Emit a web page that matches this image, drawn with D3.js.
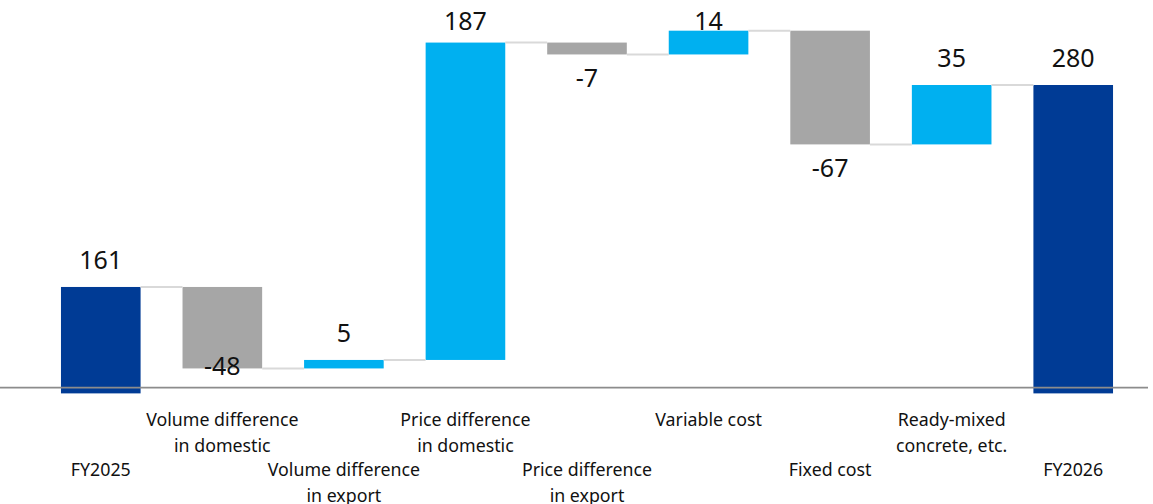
<!DOCTYPE html>
<html>
<head>
<meta charset="utf-8">
<script src="https://cdn.jsdelivr.net/npm/d3@7/dist/d3.min.js"></script>
<style>
  html, body { margin: 0; padding: 0; background: #ffffff; }
  svg { display: block; }
  text { font-family: "Noto Sans", "DejaVu Sans", sans-serif; fill: #111111; }
</style>
</head>
<body>
<svg id="chart" width="1153" height="504"></svg>
<script>
// Operating profit bridge, FY2025 -> FY2026
const categories = [
  "FY2025",
  "Volume difference\nin domestic",
  "Volume difference\nin export",
  "Price difference\nin domestic",
  "Price difference\nin export",
  "Variable cost",
  "Fixed cost",
  "Ready-mixed\nconcrete, etc.",
  "FY2026"
];
const values = [161, -48, 5, 187, -7, 14, -67, 35, 280];
const isTotal = [true, false, false, false, false, false, false, false, true];

const colors = { total: "#003B95", up: "#00B0F0", down: "#A6A6A6", connector: "#D9D9D9", axis: "#8C8C8C" };

const svg = d3.select("#chart");

// Running totals: each step starts where the previous one ended
const steps = [];
let running = 0;
values.forEach((v, i) => {
  if (isTotal[i]) {
    steps.push({ cat: categories[i], v, start: null, end: v, total: true });
    running = v;
  } else {
    steps.push({ cat: categories[i], v, start: running, end: running + v, total: false });
    running += v;
  }
});

const x = d3.scaleBand()
  .domain(categories)
  .range([40, 1134])
  .paddingInner(0.345)
  .paddingOuter(0.1725);

// Truncated value axis: the chart floor sits around 100
const y = d3.scaleLinear().domain([100, 280]).range([390.5, 85]);
const floorValue = 98.3;   // totals run down just past the axis line
const axisValue = 101.7;
const axisY = y(axisValue);

// bars
svg.append("g").selectAll("rect")
  .data(steps)
  .join("rect")
  .attr("x", d => x(d.cat))
  .attr("width", x.bandwidth())
  .attr("y", d => d.total ? y(d.end) : y(Math.max(d.start, d.end)))
  .attr("height", d => d.total ? y(floorValue) - y(d.end) : Math.abs(y(d.start) - y(d.end)))
  .attr("fill", d => d.total ? colors.total : (d.v >= 0 ? colors.up : colors.down));

// connectors between neighbouring bars at the running level
svg.append("g").selectAll("line")
  .data(steps.slice(0, -1))
  .join("line")
  .attr("x1", d => x(d.cat) + x.bandwidth())
  .attr("x2", (d, i) => x(steps[i + 1].cat))
  .attr("y1", d => y(d.end))
  .attr("y2", d => y(d.end))
  .attr("stroke", colors.connector)
  .attr("stroke-width", 2);

// category axis line
svg.append("line")
  .attr("x1", 0).attr("x2", 1148)
  .attr("y1", axisY).attr("y2", axisY)
  .attr("stroke", colors.axis)
  .attr("stroke-width", 1.75);

// value labels: above rising/total bars, below falling bars
svg.append("g").selectAll("text")
  .data(steps)
  .join("text")
  .attr("text-anchor", "middle")
  .attr("font-size", 25)
  .attr("x", d => x(d.cat) + x.bandwidth() / 2)
  .attr("y", d => {
    if (d.total || d.v >= 0) {
      return Math.max(y(d.end) - 18, 29.5);
    }
    return Math.min(y(d.end) + 32.5, axisY - 12.5);
  })
  .text(d => String(d.v));

// category labels, staggered in two rows
const catG = svg.append("g");
steps.forEach((d, i) => {
  const baseY = i % 2 === 1 ? 426 : 476;
  const cx = x(d.cat) + x.bandwidth() / 2;
  const t = catG.append("text")
    .attr("text-anchor", "middle")
    .attr("font-size", 17.8)
    .attr("x", cx)
    .attr("y", baseY);
  d.cat.split("\n").forEach((line, k) => {
    t.append("tspan")
      .attr("x", cx)
      .attr("dy", k === 0 ? 0 : 25.5)
      .text(line);
  });
});
</script>
</body>
</html>
